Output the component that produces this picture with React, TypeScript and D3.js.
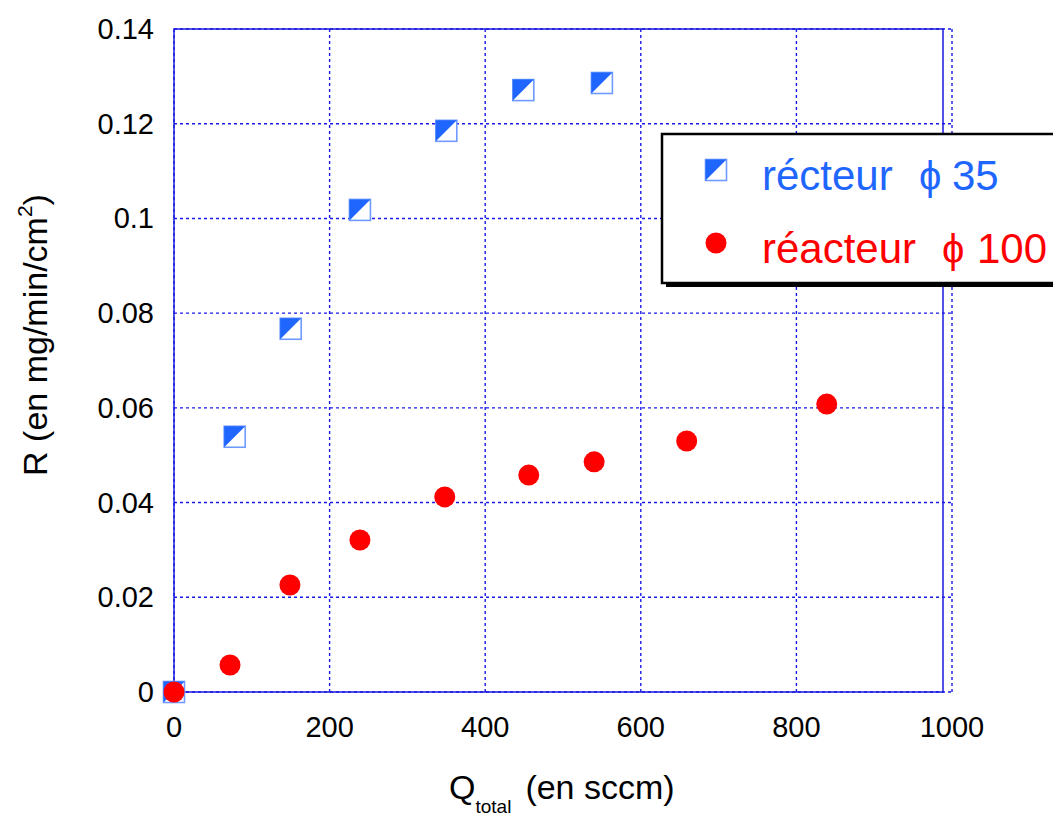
import React from "react";
import * as d3 from "d3";

const xTicks = [0, 200, 400, 600, 800, 1000];
const yTicks = [0, 0.02, 0.04, 0.06, 0.08, 0.1, 0.12, 0.14];
const yTickLabels = ["0", "0.02", "0.04", "0.06", "0.08", "0.1", "0.12", "0.14"];

const blueX = [0, 78, 150, 239, 350, 449, 550];
const blueY = [0, 0.0539, 0.0767, 0.1018, 0.1185, 0.1271, 0.1286];

const redX = [0, 72, 149, 239, 348, 456, 540, 659, 839];
const redY = [0, 0.0057, 0.0226, 0.0321, 0.0412, 0.0458, 0.0486, 0.053, 0.0608];

const legendLabels = ["récteur", "réacteur"];
const legendPhi = ["35", "100"];

const W = 1053;
const H = 817;
const FONT = "'Liberation Sans', Arial, sans-serif";
const BLUE = "#1f66ff";
const BLUE_EDGE = "#6f9aff";
const RED = "#ff0000";
const GRID = "#1a1ae6";

function Square({ cx, cy, s }: { cx: number; cy: number; s: number }) {
  const h = s / 2;
  return (
    <g>
      <rect x={cx - h} y={cy - h} width={s} height={s} fill="#fff" stroke={BLUE_EDGE} strokeWidth={1.6} />
      <polygon
        points={`${cx - h},${cy - h} ${cx + h},${cy - h} ${cx - h},${cy + h}`}
        fill={BLUE}
      />
    </g>
  );
}

export default function App() {
  const x = d3.scaleLinear().domain([0, 1000]).range([174, 952]);
  const y = d3.scaleLinear().domain([0, 0.14]).range([692, 29]);
  const frameRight = 943;

  const blue = blueX.map((v, i) => ({ x: v, y: blueY[i] }));
  const red = redX.map((v, i) => ({ x: v, y: redY[i] }));

  return (
    <svg
      width={W}
      height={H}
      style={{ position: "absolute", left: 0, top: 0, background: "#fff" }}
      fontFamily={FONT}
    >
      {/* grid */}
      {yTicks.map((t) => (
        <line
          key={"gy" + t}
          x1={x(0)}
          x2={x(1000)}
          y1={y(t)}
          y2={y(t)}
          stroke={GRID}
          strokeWidth={1.4}
          strokeDasharray="3,3"
        />
      ))}
      {xTicks.map((t) => (
        <line
          key={"gx" + t}
          x1={x(t)}
          x2={x(t)}
          y1={y(0.14)}
          y2={y(0)}
          stroke={GRID}
          strokeWidth={1.4}
          strokeDasharray="3,3"
        />
      ))}
      {/* frame */}
      <rect
        x={x(0)}
        y={y(0.14)}
        width={frameRight - x(0)}
        height={y(0) - y(0.14)}
        fill="none"
        stroke="#1a1ae0"
        strokeWidth={1.5}
      />
      {/* tick labels */}
      {xTicks.map((t) => (
        <text key={"tx" + t} x={x(t)} y={737} textAnchor="middle" fontSize={29} fill="#000">
          {t}
        </text>
      ))}
      {yTicks.map((t, i) => (
        <text key={"ty" + t} x={154} y={y(t) + 10} textAnchor="end" fontSize={29} fill="#000">
          {yTickLabels[i]}
        </text>
      ))}
      {/* axis titles */}
      <text x={449} y={799} fontSize={34} fill="#000">
        Q
        <tspan fontSize={19} dy={14}>total</tspan>
        <tspan dy={-14} dx={14}>(en sccm)</tspan>
      </text>
      <text transform="translate(47,335) rotate(-90)" textAnchor="middle" fontSize={34} fill="#000">
        R (en mg/min/cm
        <tspan fontSize={21} dy={-15}>2</tspan>
        <tspan dy={15}>)</tspan>
      </text>
      {/* data */}
      {blue.map((d, i) => (
        <Square key={"b" + i} cx={x(d.x)} cy={y(d.y)} s={21} />
      ))}
      {red.map((d, i) => (
        <circle key={"r" + i} cx={x(d.x)} cy={y(d.y)} r={10.5} fill={RED} />
      ))}
      {/* legend */}
      <rect x={666} y={138} width={420} height={149} fill="#000" />
      <rect x={662} y={134} width={420} height={149} fill="#fff" stroke="#000" strokeWidth={2.5} />
      <Square cx={716} cy={170} s={21} />
      <circle cx={716} cy={243} r={10.5} fill={RED} />
      <text x={762} y={190} fontSize={42} fill={BLUE}>
        {legendLabels[0]}
      </text>
      <text x={919} y={190} fontSize={40} fill={BLUE}>ϕ</text>
      <text x={952} y={190} fontSize={42} fill={BLUE}>
        {legendPhi[0]}
      </text>
      <text x={762} y={263} fontSize={42} fill={RED}>
        {legendLabels[1]}
      </text>
      <text x={942} y={263} fontSize={40} fill={RED}>ϕ</text>
      <text x={977} y={263} fontSize={42} fill={RED}>
        {legendPhi[1]}
      </text>
    </svg>
  );
}
